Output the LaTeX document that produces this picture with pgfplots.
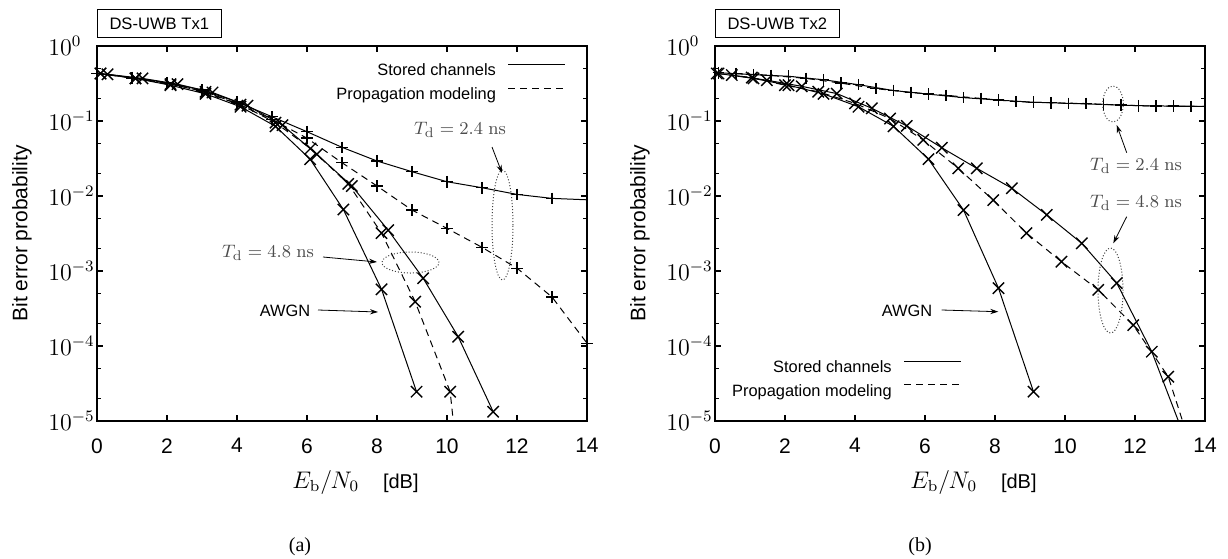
\documentclass[border=0pt]{standalone}
\usepackage[no-math]{fontspec}
\setmainfont{Liberation Sans}
\newfontfamily\capfont{Liberation Serif}
\usepackage{pgfplots}
\pgfplotsset{compat=1.18}
\usetikzlibrary{arrows.meta}

\tikzset{
  stored/.style={black, line width=0.5pt, solid},
  prop/.style={black, line width=0.5pt, dash pattern=on 3.5pt off 2.5pt},
  plusm/.style={mark=+, mark size=2.9pt, mark options={solid, line width=0.7pt}},
  xm/.style={mark=x, mark size=4pt, mark options={solid, line width=0.7pt}},
}
\pgfplotsset{
  legend image code/.code={\draw[#1] (0pt,3.4pt) -- (28.5pt,3.4pt);},
}

\begin{document}
\begin{tikzpicture}
\useasboundingbox (0,0) rectangle (614pt,-279pt);

% ---------------- (a) DS-UWB Tx1 ----------------
\begin{axis}[
  scale only axis, width=245pt, height=187.5pt,
  xmin=0, xmax=14, ymode=log, ymin=1e-5, ymax=1,
  xtick={0,2,...,14}, xticklabels={0,2,4,6,8,10,12,14},
  ytick={1,0.1,0.01,0.001,0.0001,0.00001},
  minor ytick={0.5,0.2,0.05,0.02,0.005,0.002,0.0005,0.0002,0.00005,0.00002},
  tick align=inside,
  major tick length=3pt, minor tick length=2pt,
  axis line style={line width=0.9pt},
  every tick/.style={black, line width=0.6pt},
  xticklabel style={font=\fontsize{10.5}{12}\selectfont, inner sep=0pt, yshift=-8.5pt},
  yticklabel style={font=\fontsize{11.5}{13}\selectfont, anchor=west, inner sep=0pt, xshift=-24.5pt},
  xlabel={$E_{\mathrm{b}}/N_0$\hspace{12pt}{\fontsize{10}{12}\selectfont[dB]}},
  xlabel style={at={(axis description cs:0.5276,-0.1627)}, anchor=center, font=\fontsize{11.5}{13}\selectfont},
  ylabel={Bit error probability},
  ylabel style={at={(axis description cs:-0.153,0.5)}, anchor=center, font=\fontsize{10.5}{12}\selectfont},
  title={DS-UWB Tx1},
  title style={at={(axis description cs:0,1)}, anchor=south west, yshift=-2pt, draw, line width=0.5pt,
    inner xsep=6pt, inner ysep=0pt, minimum height=14pt, font=\fontsize{8.3}{10}\selectfont},
  legend style={draw=none, fill=none, inner sep=0pt, outer sep=0pt, font=\fontsize{8.2}{10}\selectfont,
    row sep=4.4pt, column sep=6pt, nodes={inner sep=0pt},
    at={(axis description cs:0.957,0.952)}, anchor=north east},
  legend cell align=right,
  legend plot pos=right,
  at={(48.5pt,-210.5pt)}, anchor=south west]
\addlegendimage{stored}\addlegendentry{Stored channels}
\addlegendimage{prop}\addlegendentry{Propagation modeling}
% Td = 2.4 ns, stored channels
\addplot[forget plot, stored, plusm, mark indices={1,...,14}] coordinates {
 (0,0.43) (1,0.38) (2,0.325) (3,0.26) (4,0.18) (5,0.114) (6,0.072) (7,0.0446)
 (8,0.0293) (9,0.0211) (10,0.0155) (11,0.0129) (12,0.0105) (13,0.0093) (14,0.0089)};
% Td = 2.4 ns, propagation modeling
\addplot[forget plot, prop, plusm] coordinates {
 (0,0.43) (1,0.375) (2,0.32) (3,0.25) (4,0.17) (5,0.105) (6,0.059) (7,0.0278)
 (8,0.0136) (9,0.0065) (10,0.0037) (11,0.00207) (12,0.00109) (13,0.00045) (14,0.000109)};
% Td = 4.8 ns, stored channels
\addplot[forget plot, stored, xm] coordinates {
 (0.3,0.42) (1.3,0.37) (2.3,0.31) (3.3,0.24) (4.3,0.16) (5.3,0.088) (6.28,0.036)
 (7.28,0.0136) (8.32,0.0035) (9.32,0.0008) (10.32,0.000133) (11.32,0.0000133)};
% Td = 4.8 ns, propagation modeling
\addplot[forget plot, prop, xm, mark indices={1,...,11}] coordinates {
 (0.1,0.43) (1.1,0.37) (2.1,0.31) (3.1,0.245) (4.1,0.165) (5.1,0.095) (6.1,0.043)
 (7.18,0.0145) (8.13,0.0032) (9.09,0.00039) (10.09,0.0000246) (11.09,0.000000001)};
% AWGN
\addplot[forget plot, stored, xm] coordinates {
 (0.1,0.43) (1.1,0.37) (2.1,0.3) (3.1,0.23) (4.1,0.155) (5.1,0.085) (6.09,0.031)
 (7.04,0.0066) (8.13,0.00057) (9.13,0.0000246)};
\end{axis}

% ---------------- (b) DS-UWB Tx2 ----------------
\begin{axis}[
  scale only axis, width=245pt, height=187.5pt,
  xmin=0, xmax=14, ymode=log, ymin=1e-5, ymax=1,
  xtick={0,2,...,14}, xticklabels={0,2,4,6,8,10,12,14},
  ytick={1,0.1,0.01,0.001,0.0001,0.00001},
  minor ytick={0.5,0.2,0.05,0.02,0.005,0.002,0.0005,0.0002,0.00005,0.00002},
  tick align=inside,
  major tick length=3pt, minor tick length=2pt,
  axis line style={line width=0.9pt},
  every tick/.style={black, line width=0.6pt},
  xticklabel style={font=\fontsize{10.5}{12}\selectfont, inner sep=0pt, yshift=-8.5pt},
  yticklabel style={font=\fontsize{11.5}{13}\selectfont, anchor=west, inner sep=0pt, xshift=-24.5pt},
  xlabel={$E_{\mathrm{b}}/N_0$\hspace{12pt}{\fontsize{10}{12}\selectfont[dB]}},
  xlabel style={at={(axis description cs:0.5276,-0.1627)}, anchor=center, font=\fontsize{11.5}{13}\selectfont},
  ylabel={Bit error probability},
  ylabel style={at={(axis description cs:-0.153,0.5)}, anchor=center, font=\fontsize{10.5}{12}\selectfont},
  title={DS-UWB Tx2},
  title style={at={(axis description cs:0,1)}, anchor=south west, yshift=-2pt, draw, line width=0.5pt,
    inner xsep=6pt, inner ysep=0pt, minimum height=14pt, font=\fontsize{8.3}{10}\selectfont},
  legend style={draw=none, fill=none, inner sep=0pt, outer sep=0pt, font=\fontsize{8.2}{10}\selectfont,
    row sep=4.4pt, column sep=6pt, nodes={inner sep=0pt},
    at={(axis description cs:0.5035,0.161)}, anchor=north east},
  legend cell align=right,
  legend plot pos=right,
  at={(357.5pt,-210.5pt)}, anchor=south west]
\addlegendimage{stored}\addlegendentry{Stored channels}
\addlegendimage{prop}\addlegendentry{Propagation modeling}
% Td = 2.4 ns, stored channels
\addplot[forget plot, stored, plusm, mark indices={1,...,14}] coordinates {
 (0.1,0.44) (1.1,0.415) (2.1,0.395) (3.1,0.355) (4.1,0.305) (5.1,0.255) (6.1,0.228)
 (7.1,0.205) (8.1,0.19) (9.1,0.178) (10.1,0.172) (11.1,0.166) (12.1,0.16) (13.1,0.158) (14,0.157)};
% Td = 2.4 ns, propagation modeling
\addplot[forget plot, prop, plusm, mark indices={1,...,14}] coordinates {
 (0.6,0.43) (1.6,0.405) (2.6,0.37) (3.6,0.32) (4.6,0.27) (5.6,0.24) (6.6,0.22)
 (7.6,0.2) (8.6,0.181) (9.6,0.175) (10.6,0.171) (11.6,0.163) (12.6,0.158) (13.6,0.157) (14,0.157)};
% Td = 4.8 ns, stored channels
\addplot[forget plot, stored, xm, mark indices={1,...,13}] coordinates {
 (0.48,0.41) (1.48,0.35) (2.48,0.29) (3.48,0.232) (4.48,0.148) (5.48,0.086) (6.48,0.044)
 (7.48,0.0234) (8.48,0.0127) (9.48,0.0056) (10.48,0.00234) (11.48,0.00069) (12.48,0.000084) (13.48,0.0000051)};
% Td = 4.8 ns, propagation modeling
\addplot[forget plot, prop, xm, mark indices={1,...,14}] coordinates {
 (0.05,0.43) (1.05,0.38) (2.0,0.30) (2.95,0.246) (4.0,0.172) (5.0,0.108) (5.95,0.056)
 (6.95,0.0234) (7.95,0.0088) (8.9,0.0032) (9.9,0.00133) (10.95,0.00056) (11.95,0.00019) (12.95,0.000039) (13.95,0.0000014)};
% AWGN
\addplot[forget plot, stored, xm] coordinates {
 (0.1,0.43) (1.1,0.37) (2.1,0.3) (3.1,0.23) (4.1,0.155) (5.1,0.085) (6.1,0.031)
 (7.1,0.0065) (8.1,0.00059) (9.1,0.0000246)};
\end{axis}

% ---------------- annotations (pixel grid of the reference) ----------------
\begin{scope}[x=0.5pt, y=-0.5pt]
  \tikzset{ell/.style={densely dotted, black!75, line width=0.5pt},
           arr/.style={-{Stealth[length=4pt, width=2.6pt]}, line width=0.4pt, black},
           td/.style={text=black!70, font=\fontsize{9.5}{11}\selectfont, inner sep=0pt},
           ann/.style={font=\fontsize{8.2}{10}\selectfont, inner sep=0pt}}
  % left panel
  \draw[ell] (502.5,225) ellipse [x radius=5.25pt, y radius=27.5pt];
  \draw[arr] (492,147) -- (502,173);
  \node[td] at (460,130) {$T_{\mathrm{d}} = 2.4~\mathrm{ns}$};
  \draw[ell] (410.5,262.5) ellipse [x radius=14.25pt, y radius=5.25pt];
  \draw[arr] (323,257) -- (377,262);
  \node[td] at (268,253) {$T_{\mathrm{d}} = 4.8~\mathrm{ns}$};
  \node[ann] at (285,311) {AWGN};
  \draw[arr] (318,310) -- (378,312);
  % right panel
  \draw[ell] (1113,104) ellipse [x radius=5.15pt, y radius=9pt];
  \draw[arr] (1126.7,152.7) -- (1116.7,125);
  \node[td] at (1136,166) {$T_{\mathrm{d}} = 2.4~\mathrm{ns}$};
  \draw[ell] (1110.5,290.5) ellipse [x radius=6.25pt, y radius=21.25pt];
  \draw[arr] (1126.7,216.7) -- (1113.3,243.3);
  \node[td] at (1136,203) {$T_{\mathrm{d}} = 4.8~\mathrm{ns}$};
  \node[ann] at (907,311) {AWGN};
  \draw[arr] (941.7,310) -- (998.3,311.7);
  % captions
  \node[font=\capfont\fontsize{10}{12}\selectfont] at (300,547) {(a)};
  \node[font=\capfont\fontsize{10}{12}\selectfont] at (920,547) {(b)};
\end{scope}
\end{tikzpicture}
\end{document}
